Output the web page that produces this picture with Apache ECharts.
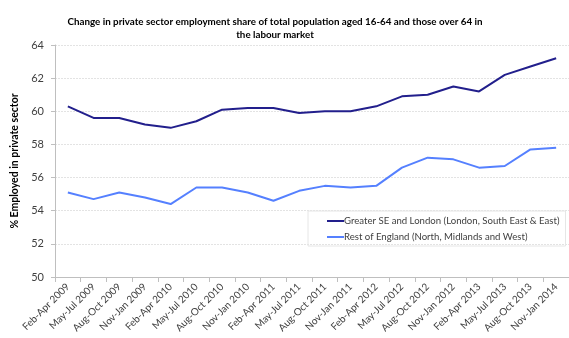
<!DOCTYPE html>
<html>
<head>
<meta charset="utf-8">
<script src="https://cdn.jsdelivr.net/npm/echarts@6/dist/echarts.min.js"></script>
<style>
  html, body { margin: 0; padding: 0; background: #ffffff; }
  #chart { width: 569px; height: 338px; }
</style>
</head>
<body>
<div id="chart"></div>
<script>
// Quarterly periods
var periods = [
  'Feb-Apr 2009', 'May-Jul 2009', 'Aug-Oct 2009', 'Nov-Jan 2009',
  'Feb-Apr 2010', 'May-Jul 2010', 'Aug-Oct 2010', 'Nov-Jan 2010',
  'Feb-Apr 2011', 'May-Jul 2011', 'Aug-Oct 2011', 'Nov-Jan 2011',
  'Feb-Apr 2012', 'May-Jul 2012', 'Aug-Oct 2012', 'Nov-Jan 2012',
  'Feb-Apr 2013', 'May-Jul 2013', 'Aug-Oct 2013', 'Nov-Jan 2014'
];

// % employed in private sector
var greaterSE = [
  60.3, 59.6, 59.6, 59.2, 59.0, 59.4, 60.1, 60.2, 60.2, 59.9,
  60.0, 60.0, 60.3, 60.9, 61.0, 61.5, 61.2, 62.2, 62.7, 63.2
];
var restOfEngland = [
  55.1, 54.7, 55.1, 54.8, 54.4, 55.4, 55.4, 55.1, 54.6, 55.2,
  55.5, 55.4, 55.5, 56.6, 57.2, 57.1, 56.6, 56.7, 57.7, 57.8
];

var seriesNames = [
  'Greater SE and London (London, South East & East)',
  'Rest of England (North, Midlands and West)'
];

var titleText = 'Change in private sector employment share of total population aged 16-64 and those over 64 in\nthe labour market';
var yAxisTitle = '% Employed in private sector';

var FONT = 'Lato, "Open Sans", sans-serif';

var chart = echarts.init(document.getElementById('chart'), null, { renderer: 'canvas' });

chart.setOption({
  backgroundColor: '#ffffff',
  animation: false,
  title: {
    text: titleText,
    left: 270,
    top: 10,
    textAlign: 'center',
    textStyle: {
      fontFamily: FONT,
      fontSize: 9.8,
      fontWeight: 'bold',
      color: '#000000',
      lineHeight: 13.5
    }
  },
  legend: {
    orient: 'vertical',
    left: 308,
    top: 211,
    width: 258,
    padding: [5, 6, 4, 19],
    itemGap: 6,
    itemWidth: 17,
    itemHeight: 2,
    icon: 'rect',
    borderColor: '#e6e6e6',
    borderWidth: 1,
    textStyle: {
      fontFamily: FONT,
      fontSize: 9.6,
      color: '#404040',
      padding: [0, 0, 0, -5]
    },
    data: seriesNames
  },
  grid: {
    left: 55,
    top: 45,
    right: -14,
    bottom: 61,
    containLabel: false
  },
  xAxis: {
    type: 'category',
    data: periods,
    boundaryGap: true,
    axisLine: { lineStyle: { color: '#bfbfbf', width: 1 } },
    axisTick: { show: true, length: 5, alignWithLabel: false, lineStyle: { color: '#bfbfbf' } },
    axisLabel: {
      interval: 0,
      rotate: 45,
      margin: 8,
      fontFamily: FONT,
      fontSize: 10,
      color: '#404040'
    },
    splitLine: { show: false }
  },
  yAxis: {
    type: 'value',
    min: 50,
    max: 64,
    interval: 2,
    name: yAxisTitle,
    nameLocation: 'middle',
    nameGap: 33,
    nameRotate: 90,
    nameTextStyle: {
      fontFamily: FONT,
      fontSize: 10.5,
      fontWeight: 'bold',
      color: '#000000'
    },
    axisLine: { show: true, lineStyle: { color: '#bfbfbf', width: 1 } },
    axisTick: { show: true, length: 4, lineStyle: { color: '#bfbfbf' } },
    axisLabel: {
      margin: 11,
      fontFamily: FONT,
      fontSize: 11,
      color: '#404040'
    },
    splitLine: { show: true, lineStyle: { color: '#e3e3e3', width: 1, type: [2, 1] } }
  },
  series: [
    {
      name: seriesNames[0],
      type: 'line',
      data: greaterSE,
      showSymbol: false,
      symbol: 'none',
      color: '#221f8c',
      lineStyle: { color: '#221f8c', width: 2 }
    },
    {
      name: seriesNames[1],
      type: 'line',
      data: restOfEngland,
      showSymbol: false,
      symbol: 'none',
      color: '#5580ff',
      lineStyle: { color: '#5580ff', width: 2 }
    }
  ]
});
</script>
</body>
</html>
